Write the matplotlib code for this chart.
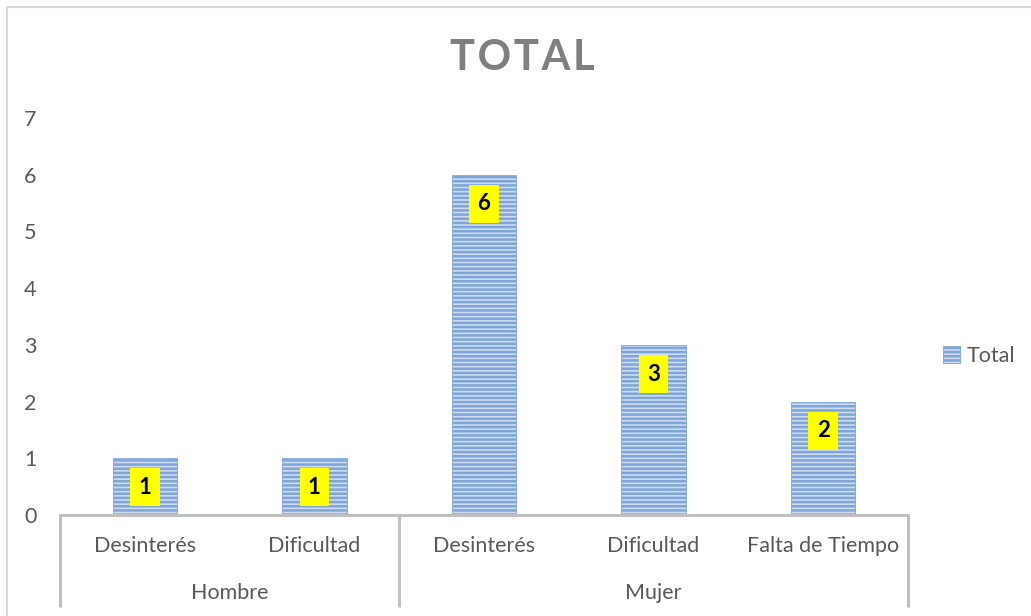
import matplotlib
matplotlib.use("Agg")
import matplotlib.pyplot as plt
from matplotlib.patches import Rectangle
from matplotlib.lines import Line2D
import matplotlib.transforms as mtransforms

plt.rcParams['font.family'] = ['Lato', 'DejaVu Sans']
plt.rcParams['hatch.color'] = '#4f80c4'
plt.rcParams['hatch.linewidth'] = 1.8

# data
groups = ['Hombre', 'Mujer']
group_sizes = [2, 3]
categories = ['Desinterés', 'Dificultad', 'Desinterés', 'Dificultad', 'Falta de Tiempo']
values = [1, 1, 6, 3, 2]

txt_col = '#595959'
line_col = '#c0c0c0'
bar_face = '#cddcf1'
bar_edge = '#7fa5d8'

fig = plt.figure(figsize=(10.31, 6.16), dpi=100)
ax = fig.add_axes([0.0582, 0.164, 0.8225, 0.6444])

x = list(range(len(values)))
bars = ax.bar(x, values, width=0.38, color=bar_face, edgecolor=bar_edge,
              linewidth=0.6, hatch='----', label='Total')

ax.set_xlim(-0.5, len(values) - 0.5)
ax.set_ylim(0, 7)
ax.set_yticks(range(0, 8))
ax.tick_params(axis='y', length=0, labelsize=15.5, labelcolor=txt_col, pad=17)
ax.set_xticks([])
for s in ['top', 'right', 'left']:
    ax.spines[s].set_visible(False)
ax.spines['bottom'].set_color(line_col)
ax.spines['bottom'].set_linewidth(2.2)

# data labels
for b, v in zip(bars, values):
    ax.annotate(str(v), (b.get_x() + b.get_width() / 2, v), xytext=(0, -21),
                textcoords='offset points', ha='center', va='center',
                fontsize=16, fontweight='bold', color='black',
                bbox=dict(boxstyle='square,pad=0.38', fc='#ffff00', ec='none'))

# multi-level category axis
trans = mtransforms.blended_transform_factory(ax.transData, ax.transAxes)
for xi, c in zip(x, categories):
    ax.text(xi, -0.078, c, transform=trans, ha='center', va='center',
            fontsize=15.5, color=txt_col)
start = -0.5
seps = [start]
for g, n in zip(groups, group_sizes):
    ax.text(start + n / 2, -0.196, g, transform=trans, ha='center', va='center',
            fontsize=15.5, color=txt_col)
    start += n
    seps.append(start)
for s in seps:
    ax.plot([s, s], [0, -0.232], transform=trans, color=line_col, lw=2.2,
            clip_on=False, solid_capstyle='butt')

# title
fig.text(0.507, 0.906, 'T\u200aO\u200aT\u200aA\u200aL', ha='center', va='center',
         fontsize=30, fontweight='bold', color='#7f7f7f')

# legend
h = Rectangle((0, 0), 1, 1, facecolor=bar_face, edgecolor=bar_edge,
              linewidth=0.6, hatch='----')
fig.legend([h], ['Total'], loc='center left', bbox_to_anchor=(0.896, 0.422),
           frameon=False, fontsize=15.5, handlelength=0.8, handleheight=0.8,
           handletextpad=0.3, labelcolor=txt_col)

# chart area border
fig.add_artist(Line2D([0.0068, 0.0068], [-0.1, 0.9886], color='#d9d9d9', lw=1.5))
fig.add_artist(Line2D([0.0068, 1.1], [0.9886, 0.9886], color='#d9d9d9', lw=1.5))

fig.savefig('out.png', dpi=100)
